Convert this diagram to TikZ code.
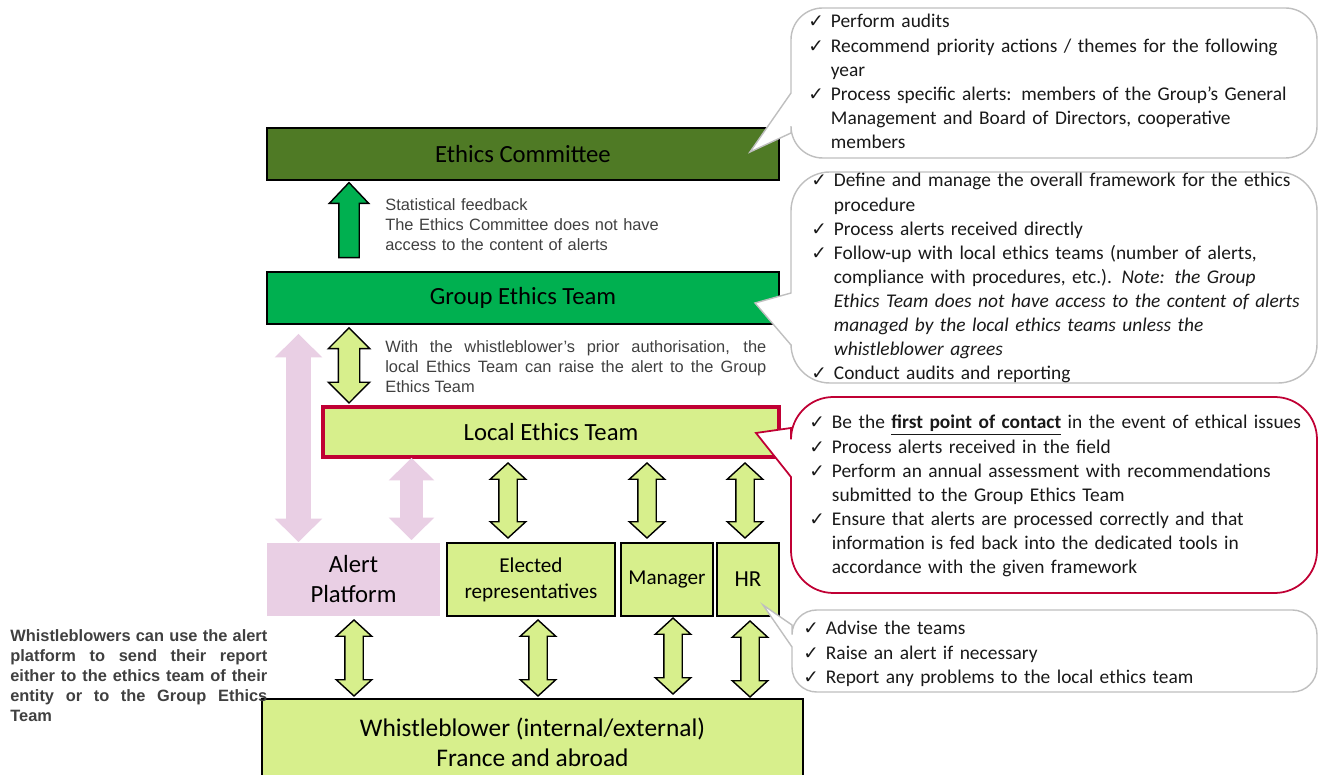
\documentclass[tikz,border=0pt]{standalone}
\usepackage{fontspec}
\setmainfont{Carlito}
\newfontfamily\arialf{Liberation Sans}
\newfontfamily\symf{DejaVu Sans}
\usetikzlibrary{shapes.arrows}

\definecolor{ecgreen}{RGB}{79,122,37}
\definecolor{getgreen}{RGB}{0,176,80}
\definecolor{limefill}{RGB}{215,239,140}
\definecolor{pinkfill}{RGB}{233,207,228}
\definecolor{crimson}{RGB}{192,0,52}
\definecolor{callgray}{RGB}{191,191,191}
\definecolor{notegray}{RGB}{64,64,64}

\newcommand\pxu{0.567pt}
\newcommand\ckitem{\noindent\hangindent=12.8pt\hangafter=1\makebox[12.8pt][l]{\symf\fontsize{10.5}{10.5}\selectfont ✓}}

\tikzset{
  box/.style={draw=black, line width=0.9pt, inner sep=0pt, align=center, font=\fontsize{14}{17}\selectfont},
  calltext/.style={anchor=base west, inner sep=0pt, text width=330pt, align=left, text=black!90, font=\fontsize{11}{13.66}\selectfont},
  note/.style={anchor=base west, inner sep=0pt, text=notegray, font=\arialf\fontsize{9.3}{11.1}\selectfont},
  callg/.style={draw=callgray, fill=white, line width=0.8pt},
  callr/.style={draw=crimson, fill=white, line width=1pt},
  limearrow/.style={double arrow, rotate=90, draw=black, line width=0.8pt, fill=limefill, inner xsep=0pt,
    inner ysep=8.5*\pxu, minimum width=34*\pxu, double arrow head extend=8.5*\pxu, double arrow tip angle=95},
  pinkarrow/.style={double arrow, rotate=90, fill=pinkfill, inner xsep=0pt,
    inner ysep=11*\pxu, minimum width=45*\pxu, double arrow head extend=11.5*\pxu, double arrow tip angle=91}
}

\begin{document}
\begin{tikzpicture}[x=\pxu, y=-\pxu]
\clip (0,0) rectangle (1322,775);

% boxes
\node[box, fill=ecgreen, minimum width=512*\pxu, minimum height=52*\pxu] (ecom) at (523,154) {Ethics Committee};
\node[box, fill=getgreen, minimum width=512*\pxu, minimum height=52*\pxu] (getm) at (523,298) {Group Ethics Team};
\node[box, fill=limefill, draw=crimson, line width=2.3pt, minimum width=456*\pxu, minimum height=50*\pxu] (letm) at (551,432) {Local Ethics Team};
\node[box, fill=pinkfill, draw=none, minimum width=173*\pxu, minimum height=73*\pxu] (alert) at (353.5,579.5) {Alert\\Platform};
\node[box, fill=limefill, font=\fontsize{12}{14.7}\selectfont, minimum width=168*\pxu, minimum height=73*\pxu] (elect) at (531,579.5) {Elected\\representatives};
\node[box, fill=limefill, font=\fontsize{12}{14.7}\selectfont, minimum width=92*\pxu, minimum height=73*\pxu] (mgr) at (667,579.5) {Manager};
\node[box, fill=limefill, font=\fontsize{13}{15}\selectfont, minimum width=62*\pxu, minimum height=73*\pxu] (hr) at (748,579.5) {HR};
\node[box, fill=limefill, font=\fontsize{14.4}{17}\selectfont, minimum width=541*\pxu, minimum height=86*\pxu] (wb) at (532.5,742) {Whistleblower (internal/external)\\France and abroad};

% block arrows
\node[single arrow, rotate=90, draw=black, line width=0.8pt, fill=getgreen, inner xsep=0pt, inner ysep=9.5*\pxu,
  minimum height=75*\pxu, minimum width=38*\pxu, single arrow head extend=9.5*\pxu, single arrow tip angle=87] (statarr) at (349,225.5) {};
\node[limearrow, minimum height=75*\pxu, inner ysep=10*\pxu, minimum width=40*\pxu, double arrow head extend=10*\pxu, double arrow tip angle=90] (arrgl) at (349,365.5) {};
\node[pinkarrow, minimum height=208*\pxu, inner ysep=12*\pxu, minimum width=47*\pxu] (arrpa) at (298.5,438) {};
\node[pinkarrow, minimum height=82*\pxu] (arrps) at (411.5,499) {};
\node[limearrow, minimum height=75*\pxu] (arrle) at (508,500.5) {};
\node[limearrow, minimum height=75*\pxu] (arrlm) at (647,500.5) {};
\node[limearrow, minimum height=75*\pxu] (arrlh) at (745,500.5) {};
\node[limearrow, minimum height=76*\pxu] (arrwa) at (354,658) {};
\node[limearrow, minimum height=76*\pxu] (arrwe) at (538,658) {};
\node[limearrow, minimum height=76*\pxu] (arrwm) at (673,656) {};
\node[limearrow, minimum height=76*\pxu] (arrwh) at (750,659) {};

% notes
\node[note, text width=170pt, align=left] (statnote) at (385,211) {Statistical feedback\\The Ethics Committee does not have\\access to the content of alerts};
\node[note, text width=216pt, align=justify] (authnote) at (385,353) {With the whistleblower’s prior authorisation, the\linebreak local Ethics Team can raise the alert to the Group\linebreak Ethics Team};
\node[note, text width=145.7pt, align=justify, font=\arialf\bfseries\fontsize{9.3}{11.3}\selectfont] (wbnote) at (10,642) {Whistleblowers can use the alert\linebreak platform to send their report\linebreak either to the ethics team of their\linebreak entity or to the Group Ethics\linebreak Team};

% callouts
\draw[callg] (1000,8) [rounded corners=18] -- (1317,8) -- (1317,158) -- (791,158) [sharp corners] -- (791,133) -- (750,152) -- (791,93) [rounded corners=18] -- (791,8) -- cycle;
\draw[callg] (1000,172) [rounded corners=22] -- (1317,172) -- (1317,383) -- (791,383) [sharp corners] -- (791,345) -- (755,303) -- (791,293) [rounded corners=22] -- (791,172) -- cycle;
\draw[callr] (1000,397) [rounded corners=24] -- (1317,397) -- (1317,593) -- (791,593) [sharp corners] -- (791,477) -- (756,433) -- (791,428) [rounded corners=24] -- (791,397) -- cycle;
\draw[callg] (1000,610) [rounded corners=14] -- (1317,610) -- (1317,692) -- (792,692) [sharp corners] -- (792,647) -- (763,605) -- (792,625) [rounded corners=14] -- (792,610) -- cycle;

\node[calltext] (ectext) at (808,28) {\ckitem Perform audits\par
  \ckitem Recommend priority actions / themes for the following\newline year\par
  \ckitem Process specific alerts: members of the Group’s General\newline Management and Board of Directors, cooperative\newline members\par};
\node[calltext] (gettext) at (811,187) {\ckitem Define and manage the overall framework for the ethics\newline procedure\par
  \ckitem Process alerts received directly\par
  \ckitem Follow-up with local ethics teams (number of alerts,\newline compliance with procedures, etc.). \textit{Note: the Group}\newline \textit{Ethics Team does not have access to the content of alerts}\newline \textit{managed by the local ethics teams unless the}\newline \textit{whistleblower agrees}\par
  \ckitem Conduct audits and reporting\par};
\node[calltext] (lettext) at (809,429) {\ckitem Be the \underline{\textbf{first point of contact}} in the event of ethical issues\par
  \ckitem Process alerts received in the field\par
  \ckitem Perform an annual assessment with recommendations\newline submitted to the Group Ethics Team\par
  \ckitem Ensure that alerts are processed correctly and that\newline information is fed back into the dedicated tools in\newline accordance with the given framework\par};
\node[calltext] (hrtext) at (803,635) {\ckitem Advise the teams\par
  \ckitem Raise an alert if necessary\par
  \ckitem Report any problems to the local ethics team\par};
\end{tikzpicture}
\end{document}
